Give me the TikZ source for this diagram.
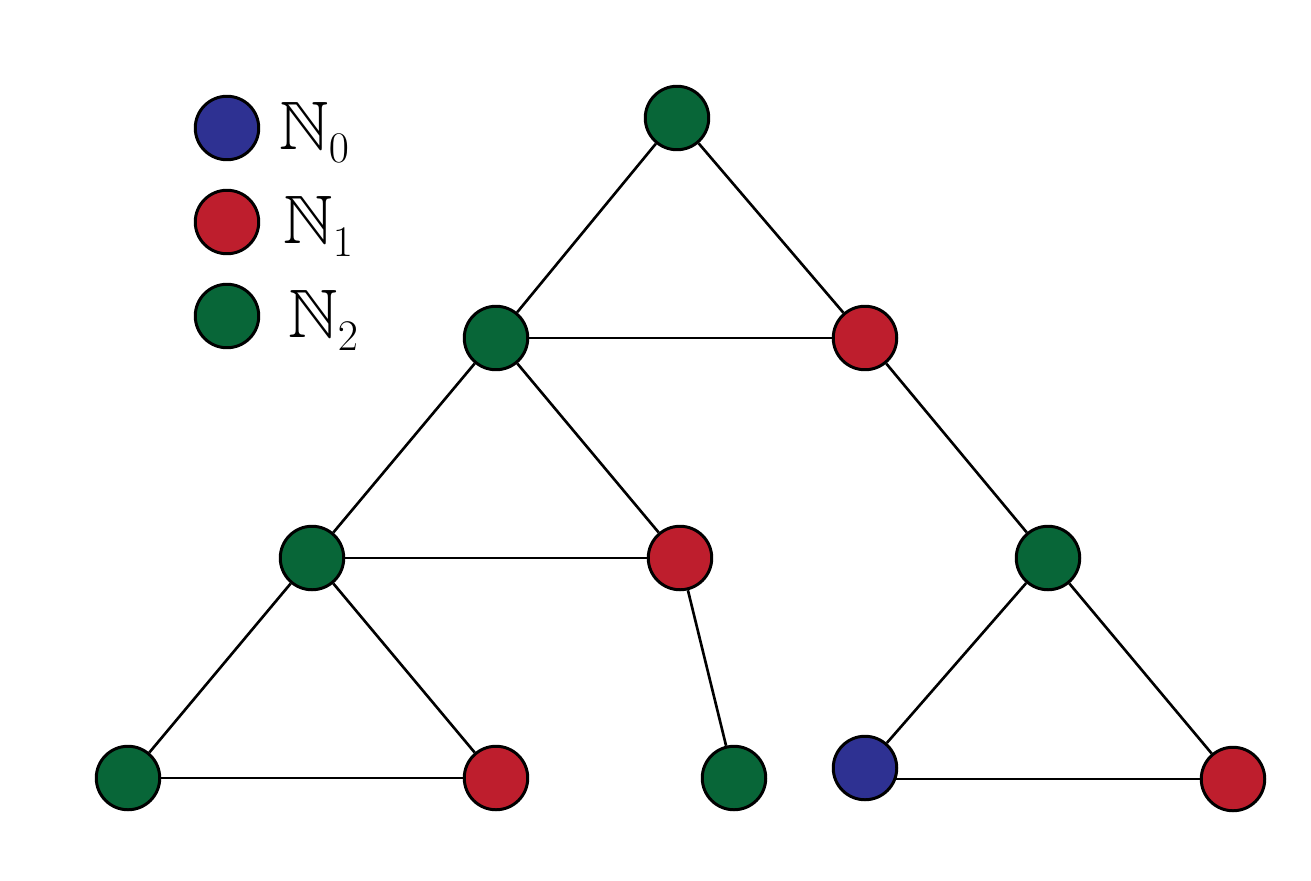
\documentclass[tikz,border=0pt]{standalone}
\usepackage{amssymb}
\definecolor{nblue}{RGB}{46,49,146}
\definecolor{nred}{RGB}{190,30,45}
\definecolor{ngreen}{RGB}{8,102,56}
\begin{document}
\begin{tikzpicture}[x=0.02cm,y=-0.02cm]
    % Node styles
    \tikzset{vtx/.style={circle,draw,line width=1.7pt,minimum size=1.27cm,inner sep=0pt},
             edge/.style={line width=1.5pt},
             lbl/.style={anchor=west,inner sep=0pt,font=\fontsize{39}{41}\selectfont}}
    \useasboundingbox (0,0) rectangle (1311,880);

    % --- Legend ---
    \node[vtx, fill=nblue] (leg0) at (227,128) {};
    \node[vtx, fill=nred] (leg1) at (227,222) {};
    \node[vtx, fill=ngreen] (leg2) at (227,316) {};
    \node[lbl] (txt0) at (279,132) {$\mathbb{N}_0$};
    \node[lbl] (txt1) at (283,226) {$\mathbb{N}_1$};
    \node[lbl] (txt2) at (288,320) {$\mathbb{N}_2$};

    % --- Level 0 ---
    \node[vtx, fill=ngreen] (top) at (677,118) {};

    % --- Level 1 ---
    \node[vtx, fill=ngreen] (a1) at (496,338) {};
    \node[vtx, fill=nred] (b1) at (865,338) {};

    % --- Level 2 ---
    \node[vtx, fill=ngreen] (a2) at (312,558) {};
    \node[vtx, fill=nred] (b2) at (680,558) {};
    \node[vtx, fill=ngreen] (c2) at (1048,558) {};

    % --- Level 3 ---
    \node[vtx, fill=ngreen] (a3) at (128,778) {};
    \node[vtx, fill=nred] (b3) at (496,778) {};
    \node[vtx, fill=ngreen] (c3) at (734,778) {};
    \node[vtx, fill=nblue] (d3) at (865,768) {};
    \node[vtx, fill=nred] (e3) at (1233,779) {};

    % Edges
    \draw[edge] (top) -- (a1);
    \draw[edge] (top) -- (b1);
    \draw[edge] (a1) -- (b1);
    \draw[edge] (a1) -- (a2);
    \draw[edge] (a1) -- (b2);
    \draw[edge] (a2) -- (b2);
    \draw[edge] (a2) -- (a3);
    \draw[edge] (a2) -- (b3);
    \draw[edge] (a3) -- (b3);
    \draw[edge] (b2) -- (c3);
    \draw[edge] (b1) -- (c2);
    \draw[edge] (c2) -- (d3);
    \draw[edge] (c2) -- (e3);
    % bottom edge leaves the blue node below its centre
    \draw[edge] (d3.-19.5) -- (d3.-19.5 -| e3.west);
  \end{tikzpicture}
\end{document}
